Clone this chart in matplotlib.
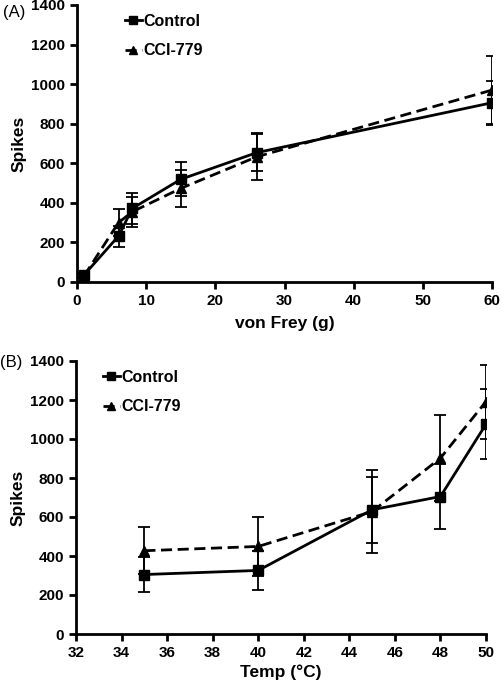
import numpy as np
import matplotlib.pyplot as plt

plt.rcParams['font.family'] = ['Liberation Sans', 'DejaVu Sans']
plt.rcParams['font.weight'] = 'bold'

# (A) von Frey
vf_x = [1, 6, 8, 15, 26, 60]
vf_ctrl = [35, 232, 372, 519, 654, 906]
vf_ctrl_err = [10, 53, 80, 86, 92, 110]
vf_cci = [30, 300, 355, 473, 633, 970]
vf_cci_err = [10, 69, 75, 95, 120, 172]

# (B) heat
t_x = [35, 40, 45, 48, 50]
t_ctrl = [305, 326, 637, 705, 1076]
t_ctrl_err = [92, 102, 170, 167, 180]
t_cci = [427, 449, 628, 902, 1192]
t_cci_err = [121, 152, 215, 222, 190]

fig = plt.figure(figsize=(5.04, 6.84), dpi=100)
axA = fig.add_axes([77/504, 1-282/684, (492-77)/504, (282-5)/684])
axB = fig.add_axes([76/504, 1-634/684, (486-76)/504, (634-361)/684])


def draw(ax, x, c, ce, t, te, leg_x):
    ax.errorbar(x, c, yerr=ce, color='black', lw=2, ls='-', marker='s', ms=7,
                elinewidth=1.3, capsize=4, capthick=1.3, label='Control', zorder=3)
    ax.errorbar(x, t, yerr=te, color='black', lw=2, ls=(0, (4, 2)), marker='^', ms=7,
                elinewidth=1.3, capsize=4, capthick=1.3, label='CCI-779', zorder=3)
    for s in ['top', 'right']:
        ax.spines[s].set_visible(False)
    for s in ['left', 'bottom']:
        ax.spines[s].set_linewidth(2)
    ax.set_ylim(0, 1400)
    ax.set_yticks(range(0, 1401, 200))
    ax.tick_params(direction='out', width=2, length=5, labelsize=11)
    ax.set_ylabel('Spikes', fontsize=12.5, fontweight='bold', labelpad=3)
    h, l = ax.get_legend_handles_labels()
    h = [hh[0] for hh in h]
    ax.legend(h, l, loc='upper left', bbox_to_anchor=(leg_x, 1.02), frameon=False,
              handlelength=1.1, handletextpad=0.1, labelspacing=0.9,
              prop={'weight': 'bold', 'size': 11.5}, markerscale=0.8)


draw(axA, vf_x, vf_ctrl, vf_ctrl_err, vf_cci, vf_cci_err, 0.08)
axA.set_xlim(0, 60)
axA.set_xticks(range(0, 61, 10))
axA.set_xlabel('von Frey (g)', fontsize=12.5, fontweight='bold', labelpad=6)

draw(axB, t_x, t_ctrl, t_ctrl_err, t_cci, t_cci_err, 0.03)
axB.set_xlim(32, 50)
axB.set_xticks(range(32, 51, 2))
axB.set_xlabel('Temp (°C)', fontsize=12.5, fontweight='bold', labelpad=3)

for ax in (axA, axB):
    plt.setp(ax.get_xticklabels() + ax.get_yticklabels(), fontweight='bold')

fig.text(3/504, 1-12/684, '(A)', fontsize=12, fontweight='normal', va='center', ha='left')
fig.text(0/504, 1-363/684, '(B)', fontsize=12, fontweight='normal', va='center', ha='left')

fig.savefig('out.png', dpi=100)
